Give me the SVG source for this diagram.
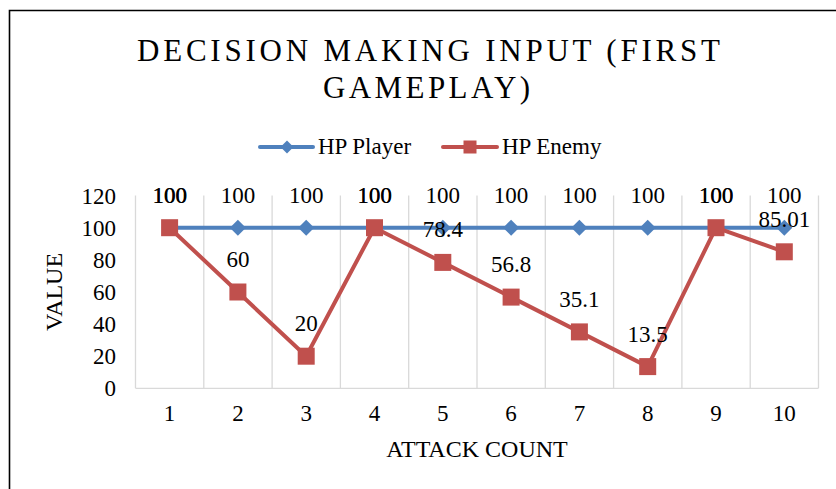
<svg xmlns="http://www.w3.org/2000/svg" width="836" height="489" viewBox="0 0 836 489">
  <style>
    .t { font-family: "Liberation Serif", "Times New Roman", serif; fill: #000; }
    .title { font-size: 31px; }
    .lbl { font-size: 23px; text-anchor: middle; }
    .ytick { font-size: 23px; text-anchor: end; }
    .axt { font-size: 24px; text-anchor: middle; }
    .leg { font-size: 23px; }
    .grid { stroke: #d9d9d9; stroke-width: 1.3; fill: none; }
    .player { stroke: #4f81bd; stroke-width: 4; fill: none; stroke-linejoin: round; stroke-linecap: round; }
    .enemy { stroke: #c0504d; stroke-width: 4; fill: none; stroke-linejoin: round; stroke-linecap: round; }
  </style>
  <defs>
    <path id="dia" d="M0,-8 L8,0 L0,8 L-8,0 Z" fill="#4f81bd"/>
    <rect id="sq" x="-8.5" y="-8.5" width="17" height="17" fill="#c0504d"/>
    <path id="dia-s" d="M0,-6.5 L6.5,0 L0,6.5 L-6.5,0 Z" fill="#4f81bd"/>
    <rect id="sq-s" x="-6.5" y="-6.5" width="13" height="13" fill="#c0504d"/>
  </defs>

  <rect width="836" height="489" fill="#fff"/>
  <!-- chart frame (left and top edges) -->
  <path d="M9.5,489 V10.5 H836" fill="none" stroke="#000" stroke-width="1.6"/>

  <!-- title -->
  <g id="title">
    <text class="t title" x="137" y="61" textLength="583" lengthAdjust="spacing">DECISION MAKING INPUT (FIRST</text>
    <text class="t title" x="323" y="98" textLength="207" lengthAdjust="spacing">GAMEPLAY)</text>
  </g>

  <!-- legend -->
  <g id="legend">
    <line x1="260" y1="147" x2="313" y2="147" class="player"/>
    <use href="#dia-s" x="287" y="147"/>
    <text class="t leg" x="318" y="154">HP Player</text>
    <line x1="443" y1="147" x2="497" y2="147" class="enemy"/>
    <use href="#sq-s" x="470" y="147"/>
    <text class="t leg" x="502" y="154">HP Enemy</text>
  </g>

  <!-- plot grid: category dividers and baseline -->
  <g id="grid">
    <path class="grid" d="M135.5,195.6 V388.3 M203.8,195.6 V388.3 M272.1,195.6 V388.3 M340.4,195.6 V388.3 M408.7,195.6 V388.3 M477,195.6 V388.3 M545.3,195.6 V388.3 M613.6,195.6 V388.3 M681.9,195.6 V388.3 M750.2,195.6 V388.3 M818.5,195.6 V388.3"/>
    <line class="grid" x1="135.5" y1="388.3" x2="818.5" y2="388.3"/>
  </g>

  <!-- value axis -->
  <g id="y-axis">
    <text class="t ytick" x="116" y="204">120</text>
    <text class="t ytick" x="116" y="236">100</text>
    <text class="t ytick" x="116" y="268">80</text>
    <text class="t ytick" x="116" y="300">60</text>
    <text class="t ytick" x="116" y="332">40</text>
    <text class="t ytick" x="116" y="364">20</text>
    <text class="t ytick" x="116" y="396">0</text>
    <text class="t axt" transform="translate(62,292) rotate(-90)">VALUE</text>
  </g>

  <!-- category axis -->
  <g id="x-axis">
    <text class="t lbl" x="169.6" y="421">1</text>
    <text class="t lbl" x="237.9" y="421">2</text>
    <text class="t lbl" x="306.2" y="421">3</text>
    <text class="t lbl" x="374.5" y="421">4</text>
    <text class="t lbl" x="442.8" y="421">5</text>
    <text class="t lbl" x="511.1" y="421">6</text>
    <text class="t lbl" x="579.4" y="421">7</text>
    <text class="t lbl" x="647.7" y="421">8</text>
    <text class="t lbl" x="716" y="421">9</text>
    <text class="t lbl" x="784.3" y="421">10</text>
    <text class="t axt" x="477" y="457">ATTACK COUNT</text>
  </g>

  <!-- data series -->
  <g id="connectors">
    <polyline id="player-line" class="player" points="169.6,227.7 237.9,227.7 306.2,227.7 374.5,227.7 442.8,227.7 511.1,227.7 579.4,227.7 647.7,227.7 716,227.7 784.3,227.7"/>
  </g>
  <g id="player-points">
    <use href="#dia" x="169.6" y="227.7"/>
    <use href="#dia" x="237.9" y="227.7"/>
    <use href="#dia" x="306.2" y="227.7"/>
    <use href="#dia" x="374.5" y="227.7"/>
    <use href="#dia" x="442.8" y="227.7"/>
    <use href="#dia" x="511.1" y="227.7"/>
    <use href="#dia" x="579.4" y="227.7"/>
    <use href="#dia" x="647.7" y="227.7"/>
    <use href="#dia" x="716" y="227.7"/>
    <use href="#dia" x="784.3" y="227.7"/>
  </g>
  <g id="enemy-series">
    <polyline id="enemy-line" class="enemy" points="169.6,227.7 237.9,292 306.2,356.2 374.5,227.7 442.8,262.4 511.1,297.1 579.4,331.9 647.7,366.6 716,227.7 784.3,251.8"/>
    <use href="#sq" x="169.6" y="227.7"/>
    <use href="#sq" x="237.9" y="292"/>
    <use href="#sq" x="306.2" y="356.2"/>
    <use href="#sq" x="374.5" y="227.7"/>
    <use href="#sq" x="442.8" y="262.4"/>
    <use href="#sq" x="511.1" y="297.1"/>
    <use href="#sq" x="579.4" y="331.9"/>
    <use href="#sq" x="647.7" y="366.6"/>
    <use href="#sq" x="716" y="227.7"/>
    <use href="#sq" x="784.3" y="251.8"/>
  </g>

  <!-- data labels -->
  <g id="player-labels">
    <text class="t lbl" x="169.6" y="203">100</text>
    <text class="t lbl" x="237.9" y="203">100</text>
    <text class="t lbl" x="306.2" y="203">100</text>
    <text class="t lbl" x="374.5" y="203">100</text>
    <text class="t lbl" x="442.8" y="203">100</text>
    <text class="t lbl" x="511.1" y="203">100</text>
    <text class="t lbl" x="579.4" y="203">100</text>
    <text class="t lbl" x="647.7" y="203">100</text>
    <text class="t lbl" x="716" y="203">100</text>
    <text class="t lbl" x="784.3" y="203">100</text>
  </g>
  <g id="enemy-labels">
    <text class="t lbl" x="169.9" y="203">100</text>
    <text class="t lbl" x="237.9" y="267">60</text>
    <text class="t lbl" x="306.2" y="331">20</text>
    <text class="t lbl" x="374.8" y="203">100</text>
    <text class="t lbl" x="442.8" y="237.4">78.4</text>
    <text class="t lbl" x="511.1" y="272.1">56.8</text>
    <text class="t lbl" x="579.4" y="306.9">35.1</text>
    <text class="t lbl" x="647.7" y="341.6">13.5</text>
    <text class="t lbl" x="716.3" y="203">100</text>
    <text class="t lbl" x="784.3" y="226.8">85.01</text>
  </g>
</svg>
